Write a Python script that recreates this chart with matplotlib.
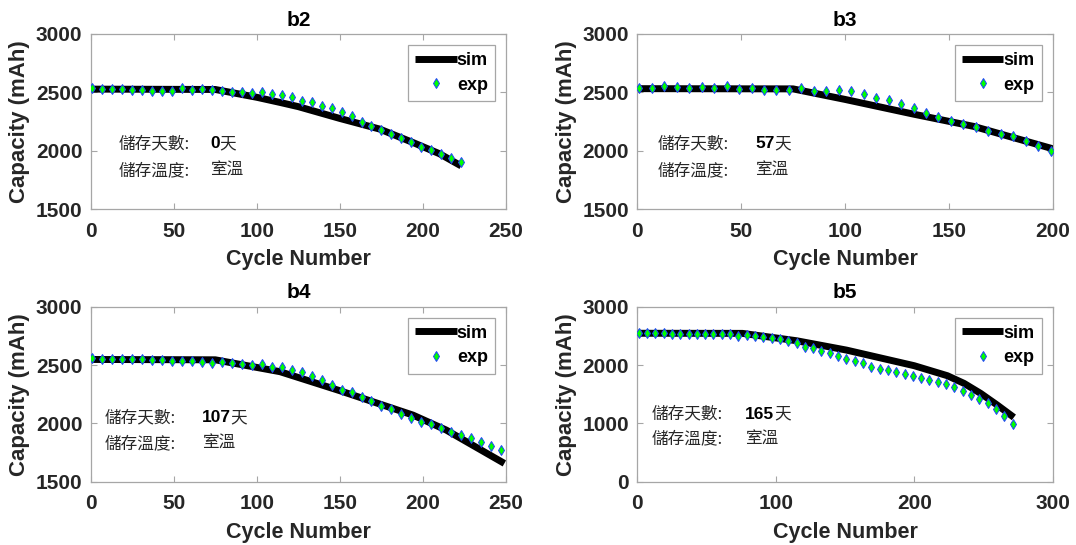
import numpy as np
import matplotlib
matplotlib.use('Agg')
import matplotlib.pyplot as plt

plt.rcParams['font.family'] = ['Liberation Sans', 'Noto Sans CJK TC', 'DejaVu Sans']
plt.rcParams['font.weight'] = 'bold'

# ---- data ----
titles = ['b2', 'b3', 'b4', 'b5']
storage_days = ['0', '57', '107', '165']

b2_cycles = [1, 7, 13, 19, 25, 31, 37, 43, 49, 55, 61, 67, 73, 79, 85, 91, 97, 103, 109,
             115, 121, 127, 133, 139, 145, 151, 157, 163, 169, 175, 181, 187, 193, 199,
             205, 211, 217, 223]
b2_exp = [2534, 2529, 2529, 2529, 2520, 2520, 2514, 2514, 2509, 2537, 2520, 2529, 2523,
          2509, 2506, 2506, 2494, 2500, 2486, 2477, 2457, 2429, 2414, 2386, 2363, 2334,
          2294, 2249, 2214, 2177, 2146, 2109, 2077, 2037, 2009, 1971, 1943, 1906]
b2_sim_x = [0, 75, 100, 114, 125, 150, 174, 194, 210, 223]
b2_sim = [2528, 2525, 2458, 2414, 2378, 2277, 2186, 2071, 1975, 1871]

b3_cycles = [1, 7, 13, 19, 25, 31, 37, 43, 49, 55, 61, 67, 73, 79, 85, 91, 97, 103, 109,
             115, 121, 127, 133, 139, 145, 151, 157, 163, 169, 175, 181, 187, 193, 199]
b3_exp = [2537, 2534, 2557, 2546, 2540, 2546, 2540, 2551, 2529, 2540, 2523, 2517, 2523,
          2537, 2509, 2509, 2517, 2509, 2483, 2454, 2431, 2403, 2363, 2326, 2291, 2257,
          2231, 2203, 2171, 2140, 2123, 2086, 2043, 2000]
b3_sim_x = [0, 75, 100, 133, 162, 200]
b3_sim = [2532, 2530, 2440, 2314, 2209, 2018]

b4_cycles = [1, 7, 13, 19, 25, 31, 37, 43, 49, 55, 61, 67, 73, 79, 85, 91, 97, 103, 109,
             115, 121, 127, 133, 139, 145, 151, 157, 163, 169, 175, 181, 187, 193, 199,
             205, 211, 217, 223, 229, 235, 241, 247]
b4_exp = [2557, 2551, 2551, 2549, 2549, 2549, 2543, 2543, 2534, 2537, 2534, 2523, 2520,
          2529, 2514, 2506, 2500, 2506, 2486, 2480, 2457, 2443, 2406, 2371, 2329, 2286,
          2269, 2223, 2191, 2149, 2120, 2077, 2043, 2011, 1994, 1963, 1929, 1900, 1877,
          1843, 1809, 1771]
b4_sim_x = [0, 75, 114, 150, 194, 214, 249]
b4_sim = [2548, 2545, 2443, 2280, 2071, 1943, 1657]

b5_cycles = [1, 7, 13, 19, 25, 31, 37, 43, 49, 55, 61, 67, 73, 79, 85, 91, 97, 103, 109,
             115, 121, 127, 133, 139, 145, 151, 157, 163, 169, 175, 181, 187, 193, 199,
             205, 211, 217, 223, 229, 235, 241, 247, 253, 259, 265, 271]
b5_exp = [2543, 2543, 2543, 2543, 2537, 2531, 2537, 2537, 2537, 2531, 2531, 2526, 2503,
          2520, 2497, 2474, 2463, 2440, 2411, 2371, 2314, 2286, 2246, 2211, 2154, 2109,
          2074, 2029, 1971, 1937, 1914, 1880, 1846, 1817, 1783, 1743, 1703, 1674, 1617,
          1560, 1486, 1411, 1343, 1240, 1126, 989]
b5_sim_x = [0, 76, 115, 151, 200, 224, 236, 248, 260, 272]
b5_sim = [2545, 2543, 2417, 2257, 1989, 1817, 1686, 1514, 1314, 1103]

cycles = [b2_cycles, b3_cycles, b4_cycles, b5_cycles]
exps = [b2_exp, b3_exp, b4_exp, b5_exp]
sim_xs = [b2_sim_x, b3_sim_x, b4_sim_x, b5_sim_x]
sims = [b2_sim, b3_sim, b4_sim, b5_sim]

xlims = [(0, 250), (0, 200), (0, 250), (0, 300)]
xticks = [[0, 50, 100, 150, 200, 250], [0, 50, 100, 150, 200],
          [0, 50, 100, 150, 200, 250], [0, 100, 200, 300]]
ylims = [(1500, 3000), (1500, 3000), (1500, 3000), (0, 3000)]
yticks = [[1500, 2000, 2500, 3000], [1500, 2000, 2500, 3000],
          [1500, 2000, 2500, 3000], [0, 1000, 2000, 3000]]

# text placement (axes fraction): label x, value x, line1 y, line2 y
text_pos = [(0.067, 0.287, 0.374, 0.22), (0.048, 0.284, 0.374, 0.22),
            (0.034, 0.267, 0.367, 0.219), (0.035, 0.259, 0.387, 0.244)]

rects = [[0.0843, 0.6160, 0.3860, 0.3217], [0.5923, 0.6160, 0.3860, 0.3217],
         [0.0843, 0.1161, 0.3860, 0.3211], [0.5923, 0.1161, 0.3860, 0.3211]]

tc = '#262626'
spine_c = '#a6a6a6'
cjk = ['Noto Sans CJK TC']

fig = plt.figure(figsize=(10.76, 5.45), dpi=100)
value_texts = []

for i in range(4):
    ax = fig.add_axes(rects[i])
    ax.plot(sim_xs[i], sims[i], color='black', lw=5, label='sim', zorder=2,
            solid_joinstyle='round', solid_capstyle='butt')
    ax.plot(cycles[i], exps[i], ls='none', marker='d', ms=5, mfc='#00ff00',
            mec='#1f3fff', mew=0.7, label='exp', zorder=3)
    ax.set_xlim(*xlims[i])
    ax.set_ylim(*ylims[i])
    ax.set_xticks(xticks[i])
    ax.set_xticklabels([str(v) for v in xticks[i]], fontweight='bold')
    ax.set_yticks(yticks[i])
    ax.set_yticklabels([str(v) for v in yticks[i]], fontweight='bold')
    ax.tick_params(direction='in', top=True, right=True, length=4, width=0.8,
                   color=spine_c, labelsize=15, labelcolor=tc)
    ax.tick_params(axis='x', pad=9)
    ax.tick_params(axis='y', pad=6)
    for s in ax.spines.values():
        s.set_color(spine_c)
        s.set_linewidth(0.9)
    ax.set_xlabel('Cycle Number', fontsize=15.5, fontweight='bold', color=tc, labelpad=6)
    ax.set_ylabel('Capacity (mAh)', fontsize=16, fontweight='bold', color=tc, labelpad=4)
    ax.set_title(titles[i], fontsize=15, fontweight='bold', color='black', pad=6)

    leg = ax.legend(loc='upper right', fontsize=13, handlelength=2.3, handletextpad=0.0,
                    borderpad=0.4, labelspacing=0.42, fancybox=False, framealpha=1,
                    edgecolor=spine_c, borderaxespad=0.6)
    leg.get_frame().set_linewidth(0.9)
    for t in leg.get_texts():
        t.set_fontweight('bold')
        t.set_color('black')

    lx, vx, y1, y2 = text_pos[i]
    ax.text(lx, y1, '儲存天數:', transform=ax.transAxes, fontsize=12,
            family=cjk, fontweight='normal', color=tc, va='center')
    ax.text(lx, y2, '儲存溫度:', transform=ax.transAxes, fontsize=12,
            family=cjk, fontweight='normal', color=tc, va='center')
    vt = ax.text(vx, y1, storage_days[i], transform=ax.transAxes, fontsize=12.5,
                 family=['Liberation Sans'], fontweight='bold', color='black', va='center')
    value_texts.append((ax, vt, y1))
    ax.text(vx, y2, '室溫', transform=ax.transAxes, fontsize=12,
            family=cjk, fontweight='normal', color=tc, va='center')

# put the 天 right after each bold number
fig.canvas.draw()
renderer = fig.canvas.get_renderer()
for ax, vt, y1 in value_texts:
    bb = vt.get_window_extent(renderer)
    x_ax = ax.transAxes.inverted().transform((bb.x1, bb.y0))[0]
    ax.text(x_ax, y1, '天', transform=ax.transAxes, fontsize=12, family=cjk,
            fontweight='normal', color=tc, va='center')

fig.savefig('out.png', dpi=100)
